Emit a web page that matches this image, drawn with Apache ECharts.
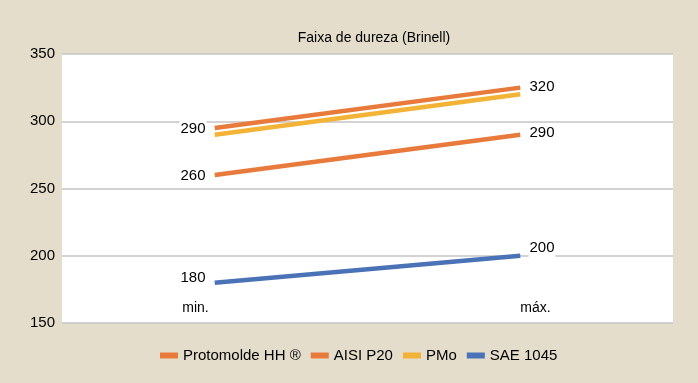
<!DOCTYPE html>
<html>
<head>
<meta charset="utf-8">
<script src="https://cdn.jsdelivr.net/npm/echarts@6/dist/echarts.min.js"></script>
<style>
html,body{margin:0;padding:0;background:#e4ddcb;}
#c{width:698px;height:383px;}
</style>
</head>
<body>
<div id="c"></div>
<script>
var categories = ['min.', 'máx.'];
var seriesNames = ['Protomolde HH ®', 'AISI P20', 'PMo', 'SAE 1045'];
var protomolde = [295, 325];
var aisiP20 = [260, 290];
var pmo = [290, 320];
var sae1045 = [180, 200];
var yTicks = [150, 200, 250, 300, 350];

var FONT = '"Liberation Sans", Arial, sans-serif';
var chart = echarts.init(document.getElementById('c'), null, {renderer: 'canvas'});

function lbl(offMin, offMax) {
  return [
    {position: 'left', offset: [0, offMin], distance: 8},
    {position: 'right', offset: [0, offMax], distance: 8}
  ];
}
function mkData(vals, labels) {
  return vals.map(function (v, i) {
    var d = {value: v};
    if (labels) {
      d.label = Object.assign({
        show: true, color: '#000', fontSize: 15, fontFamily: FONT,
        backgroundColor: '#fff', padding: [2, 1, 2, 1]
      }, labels[i]);
    }
    return d;
  });
}
function mkSeries(name, vals, color, labels) {
  return {
    name: name, type: 'line', data: mkData(vals, labels),
    lineStyle: {width: 4.5, color: color},
    itemStyle: {color: color},
    showSymbol: true, symbol: 'circle', symbolSize: 0.5,
    label: {show: !!labels}
  };
}

var option = {
  backgroundColor: '#e4ddcb',
  animation: false,
  title: {
    text: 'Faixa de dureza (Brinell)',
    left: 369, top: 26, textAlign: 'center',
    textStyle: {fontFamily: FONT, fontSize: 14, fontWeight: 'normal', color: '#000'}
  },
  grid: {left: 62, right: 25, top: 54, bottom: 60, show: true, backgroundColor: '#fff', borderWidth: 0},
  legend: {
    bottom: 15, left: 155,
    itemWidth: 18, itemHeight: 6, itemGap: 10,
    icon: 'rect',
    textStyle: {fontFamily: FONT, fontSize: 15, color: '#000'},
    data: seriesNames
  },
  xAxis: {
    type: 'category',
    data: [
      {value: categories[0], textStyle: {align: 'right', padding: [0, 6, 0, 0]}},
      {value: categories[1], textStyle: {align: 'left'}}
    ],
    boundaryGap: true,
    axisLine: {show: false},
    axisTick: {show: false},
    axisLabel: {inside: true, margin: 8, fontFamily: FONT, fontSize: 14, color: '#000'},
    splitLine: {show: false}
  },
  yAxis: {
    type: 'value', min: yTicks[0], max: yTicks[yTicks.length - 1], interval: 50,
    axisLine: {show: false},
    axisTick: {show: false},
    axisLabel: {fontFamily: FONT, fontSize: 15, color: '#000', margin: 7},
    splitLine: {lineStyle: {color: '#c4c4c4', width: 1.5}}
  },
  series: [
    mkSeries(seriesNames[0], protomolde, '#e87a3c', null),
    mkSeries(seriesNames[1], aisiP20, '#e87a3c', lbl(1, -2)),
    mkSeries(seriesNames[2], pmo, '#f2b336', lbl(-6, -7)),
    mkSeries(seriesNames[3], sae1045, '#4a72b6', lbl(-5, -8))
  ]
};
chart.setOption(option);
</script>
</body>
</html>
